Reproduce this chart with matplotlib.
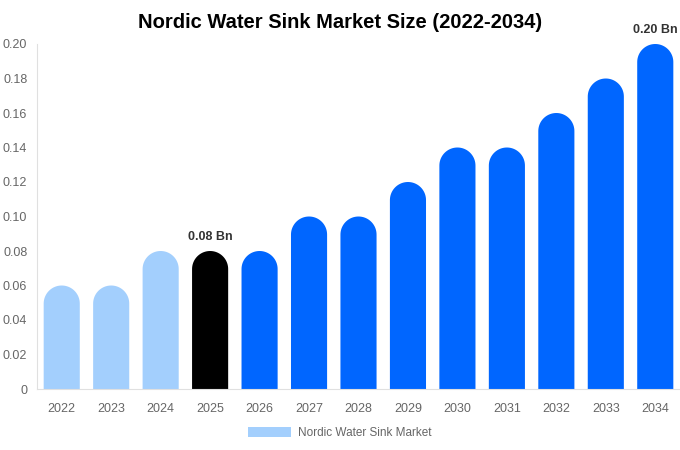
import matplotlib
matplotlib.use("Agg")
import numpy as np
import matplotlib.pyplot as plt
from matplotlib.patches import Polygon, Patch

plt.rcParams["font.family"] = ["Liberation Sans", "DejaVu Sans"]

years = ["2022", "2023", "2024", "2025", "2026", "2027", "2028",
         "2029", "2030", "2031", "2032", "2033", "2034"]
values = [0.06, 0.06, 0.08, 0.08, 0.08, 0.10, 0.10, 0.12, 0.14, 0.14, 0.16, 0.18, 0.20]
colors = ["#a3cffd"] * 3 + ["#000000"] + ["#0066ff"] * 9
labels = {"2025": "0.08 Bn", "2034": "0.20 Bn"}

fig = plt.figure(figsize=(6.8, 4.5), dpi=100)
ax = fig.add_axes([37 / 680, 1 - 389 / 450, 643 / 680, 345 / 450])

ymax = 0.20
ax.set_xlim(-0.5, len(years) - 0.5)
ax.set_ylim(0, ymax)

# rounded tops: radius in pixels converted to data units
bw = 0.73
px_per_x = 643 / len(years)
px_per_y = 345 / ymax
r_px = bw * px_per_x / 2
ry = r_px / px_per_y
theta = np.linspace(0, np.pi, 40)

for i, (yr, v, c) in enumerate(zip(years, values, colors)):
    arc_x = i + (bw / 2) * np.cos(theta)
    arc_y = (v - ry) + ry * np.sin(theta)
    xs = np.concatenate([[i + bw / 2], arc_x, [i - bw / 2]])
    ys = np.concatenate([[0], arc_y, [0]])
    ax.add_patch(Polygon(np.column_stack([xs, ys]), closed=True, facecolor=c,
                         edgecolor="none", clip_on=False))
    if yr in labels:
        ax.text(i, v + 0.0048, labels[yr], ha="center", va="bottom",
                fontsize=9, fontweight="bold", color="#333333")

ax.set_xticks(range(len(years)))
ax.set_xticklabels(years)
ax.set_yticks([0, 0.02, 0.04, 0.06, 0.08, 0.10, 0.12, 0.14, 0.16, 0.18, 0.20])
ax.set_yticklabels(["0", "0.02", "0.04", "0.06", "0.08", "0.10", "0.12",
                    "0.14", "0.16", "0.18", "0.20"])
ax.tick_params(axis="both", length=0, labelsize=9, labelcolor="#666666")
ax.tick_params(axis="x", pad=10)
ax.tick_params(axis="y", pad=7)

for s in ["top", "right"]:
    ax.spines[s].set_visible(False)
for s in ["left", "bottom"]:
    ax.spines[s].set_color("#e0e0e0")
    ax.spines[s].set_linewidth(0.8)

fig.suptitle("Nordic Water Sink Market Size (2022-2034)", fontsize=14.5,
             fontweight="bold", y=0.972)

fig.legend(handles=[Patch(facecolor="#a3cffd", edgecolor="none")],
           labels=["Nordic Water Sink Market"], loc="center",
           bbox_to_anchor=(0.5, 1 - 433 / 450), frameon=False, fontsize=8.5,
           handlelength=3.6, handleheight=0.9, handletextpad=0.6,
           labelcolor="#666666")

fig.savefig("out.png", dpi=100)
